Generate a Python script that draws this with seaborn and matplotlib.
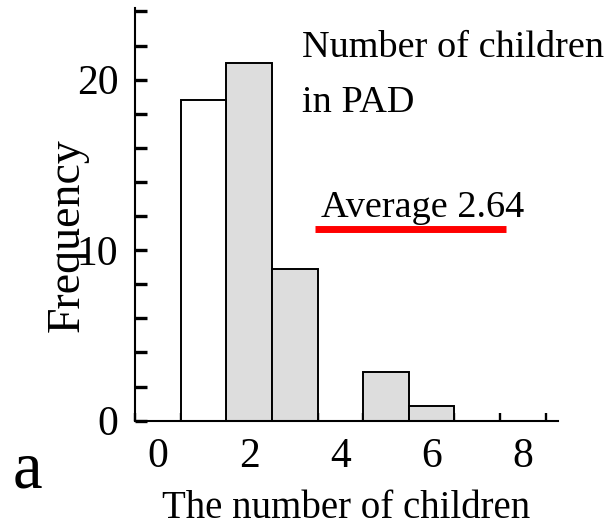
import matplotlib
matplotlib.use("Agg")
import matplotlib.pyplot as plt
import numpy as np
import pandas as pd
import seaborn as sns

# Frequency of families by number of children
children = [1, 2, 3, 5, 6]
frequency = [18.8, 21.0, 8.9, 2.85, 0.85]
bar_group = ["single", "multi", "multi", "multi", "multi"]
x_tick_values = [0, 2, 4, 6, 8]
y_tick_values = [0, 10, 20]
average_children = 2.64

sns.set_theme(style="ticks")
plt.rcParams["font.family"] = ["Liberation Serif", "DejaVu Serif"]
plt.rcParams["text.color"] = "black"
plt.rcParams["axes.labelcolor"] = "black"
plt.rcParams["xtick.color"] = "black"
plt.rcParams["ytick.color"] = "black"

df = pd.DataFrame({"children": children, "frequency": frequency, "group": bar_group})

fig = plt.figure(figsize=(6.1, 5.28), dpi=100)
ax = fig.add_axes([135 / 610, 1 - 420.7 / 528, 423 / 610, 412.7 / 528])

sns.histplot(
    data=df, x="children", weights="frequency", hue="group", discrete=True,
    palette={"single": "white", "multi": "#dddddd"}, alpha=1,
    edgecolor="black", linewidth=1.4, legend=False, ax=ax,
)

ax.set_xlim(-0.5, 8.77)
ax.set_ylim(0, 24.2)

ax.set_xticks(x_tick_values)
ax.set_xticklabels([str(v) for v in x_tick_values])
ax.set_xticks(np.arange(-0.5, 9, 1), minor=True)
ax.tick_params(axis="x", which="major", bottom=True, length=0, pad=12, labelsize=30,
               labelcolor="black")
ax.tick_params(axis="x", which="minor", bottom=True, direction="in", length=5.5,
               width=1.7, color="black")

ax.set_yticks(y_tick_values)
ax.set_yticklabels([str(v) for v in y_tick_values])
ax.set_yticks(np.arange(0, 25, 2), minor=True)
ax.tick_params(axis="y", which="both", left=True, direction="in", length=8.6, width=2.4,
               color="black", pad=12, labelsize=30, labelcolor="black")

for side in ("top", "right"):
    ax.spines[side].set_visible(False)
for side in ("left", "bottom"):
    ax.spines[side].set_linewidth(1.5)
    ax.spines[side].set_color("black")

ax.set_xlabel("The number of children", fontsize=28, labelpad=10, color="black")
ax.set_ylabel("Frequency", fontsize=33, color="black")
ax.yaxis.set_label_coords(-0.109, 0.45)

fig.text(302 / 610, 1 - 57 / 528, "Number of children", fontsize=27.5, va="baseline",
         ha="left", color="black")
fig.text(302 / 610, 1 - 112 / 528, "in PAD", fontsize=27.5, va="baseline", ha="left",
         color="black")
fig.text(321 / 610, 1 - 217 / 528, f"Average {average_children:.2f}", fontsize=27.5,
         va="baseline", ha="left", color="black")
ax.plot([3.45, 7.63], [11.27, 11.27], color="#ff0000", linewidth=5, solid_capstyle="butt")

fig.text(13 / 610, 1 - 487 / 528, "a", fontsize=48, va="baseline", ha="left", color="black")

fig.savefig("out.png", dpi=100)
